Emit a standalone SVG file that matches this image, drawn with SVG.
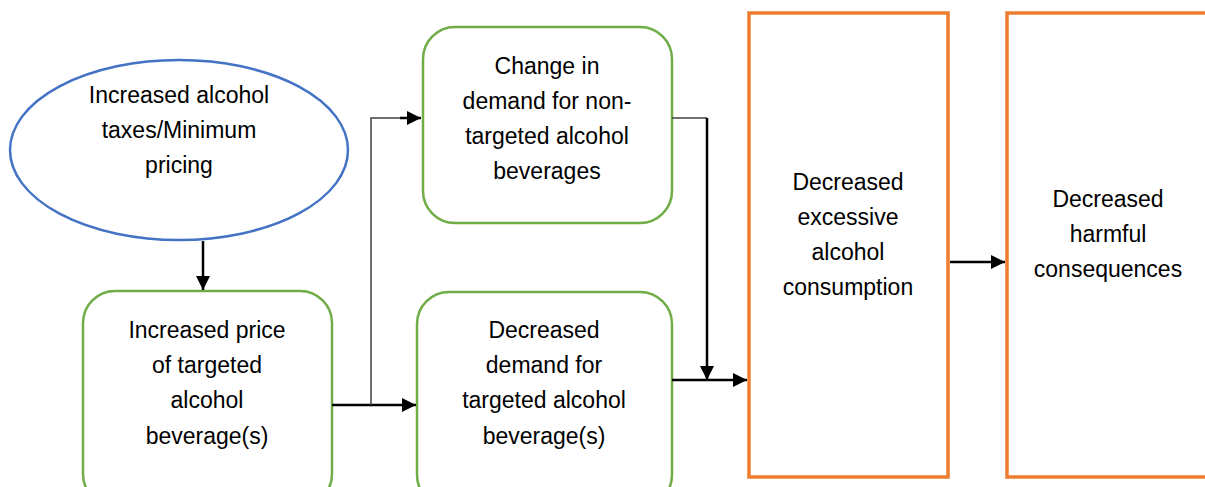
<svg xmlns="http://www.w3.org/2000/svg" width="1205" height="487" viewBox="0 0 1205 487">
<style>
.t{font-family:"Liberation Sans",Arial,sans-serif;font-size:23px;fill:#000;text-anchor:middle}
.g{fill:#fff;stroke:#70AD47;stroke-width:2.5}
.o{fill:#fff;stroke:#ED7D31;stroke-width:3.5}
.c{fill:none;stroke:#000;stroke-width:2.5}
.c2{fill:none;stroke:#404040;stroke-width:1.5}
</style>
<defs>
<marker id="ah" viewBox="0 0 10 10" refX="10" refY="5" markerWidth="16" markerHeight="14" markerUnits="userSpaceOnUse" orient="auto">
<path d="M0,0 L10,5 L0,10 z" fill="#000"/>
</marker>
</defs>
<rect width="1205" height="487" fill="#fff"/>
<g id="n1">
<ellipse cx="179" cy="150" rx="169" ry="90" fill="#fff" stroke="#4472C4" stroke-width="2.5"/>
<text class="t" x="179" y="103">Increased alcohol</text>
<text class="t" x="179" y="138">taxes/Minimum</text>
<text class="t" x="179" y="173">pricing</text>
</g>
<g id="n2">
<rect class="g" x="83" y="291" width="249" height="215" rx="32"/>
<text class="t" x="207" y="338">Increased price</text>
<text class="t" x="207" y="373">of targeted</text>
<text class="t" x="207" y="408">alcohol</text>
<text class="t" x="207" y="444">beverage(s)</text>
</g>
<g id="n3">
<rect class="g" x="423" y="27" width="249" height="196" rx="32"/>
<text class="t" x="547" y="74">Change in</text>
<text class="t" x="547" y="109">demand for non-</text>
<text class="t" x="547" y="144">targeted alcohol</text>
<text class="t" x="547" y="179">beverages</text>
</g>
<g id="n4">
<rect class="g" x="417" y="292" width="255" height="215" rx="32"/>
<text class="t" x="544" y="338">Decreased</text>
<text class="t" x="544" y="373">demand for</text>
<text class="t" x="544" y="408">targeted alcohol</text>
<text class="t" x="544" y="444">beverage(s)</text>
</g>
<g id="n5">
<rect class="o" x="749" y="13" width="199" height="464"/>
<text class="t" x="848" y="190">Decreased</text>
<text class="t" x="848" y="225">excessive</text>
<text class="t" x="848" y="260">alcohol</text>
<text class="t" x="848" y="295">consumption</text>
</g>
<g id="n6">
<rect class="o" x="1007" y="13" width="220" height="464"/>
<text class="t" x="1108" y="207">Decreased</text>
<text class="t" x="1108" y="242">harmful</text>
<text class="t" x="1108" y="277">consequences</text>
</g>
<g id="connectors">
<path class="c" d="M203,241 V290" marker-end="url(#ah)"/>
<path class="c" d="M332,405 H416" marker-end="url(#ah)"/>
<path class="c2" d="M371,405 V118 H400"/>
<path class="c" d="M400,118 H421" marker-end="url(#ah)"/>
<path class="c2" d="M672,118 H707"/>
<path class="c" d="M707,118 V380" marker-end="url(#ah)"/>
<path class="c" d="M672,380 H747" marker-end="url(#ah)"/>
<path class="c" d="M950,262 H1005" marker-end="url(#ah)"/>
</g>
</svg>
